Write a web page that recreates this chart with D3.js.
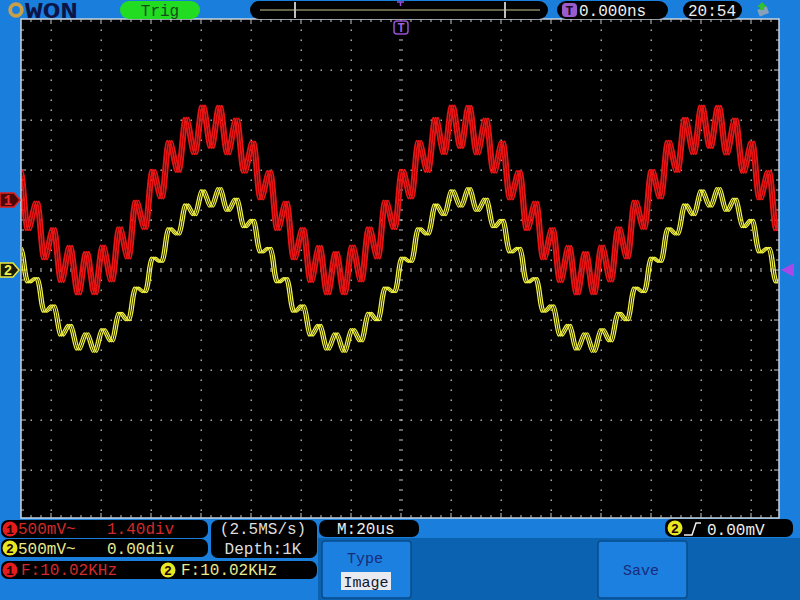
<!DOCTYPE html>
<html>
<head>
<meta charset="utf-8">
<script src="https://cdn.jsdelivr.net/npm/d3@7"></script>
<style>
  html, body { margin: 0; padding: 0; background: #1a7fdc; }
  svg { display: block; }
  text { font-family: "Liberation Mono", "DejaVu Sans Mono", monospace; }
</style>
</head>
<body>
<svg id="scope" width="800" height="600"></svg>
<script>
// turning points of the ripple (time in us from the trigger)
var timeUs = [
  -155.8,-152.4,-149.1,-145.8,-142.5,-139.1,-135.8,-132.5,-129.1,-125.8,
  -122.5,-119.2,-115.8,-112.5,-109.2,-105.9,-102.5,-99.2,-95.9,-92.6,
  -89.2,-85.9,-82.6,-79.3,-75.9,
  -72.6,-69.3,-65.9,-62.6,-59.3,-56.0,-52.6,-49.3,-46.0,-42.7,
  -39.3,-36.0,-32.7,-29.4,-26.0,-22.7,-19.4,-16.0,-12.7,-9.4,
  -6.1,-2.7,0.6,3.9,7.2,10.6,13.9,17.2,20.5,23.9,
  27.2,30.5,33.9,37.2,40.5,43.8,47.2,50.5,53.8,57.1,
  60.5,63.8,67.1,70.4,73.8,77.1,80.4,83.8,87.1,90.4,
  93.7,97.1,100.4,103.7,107.0,110.4,113.7,117.0,120.3,123.7,
  127.0,130.3,133.6,137.0,140.3,143.6,147.0,150.3,153.6
];
// CH1 (red), mV
var ch1mV = [
  4,292,-303,-14,-594,-279,-822,-458,-945,-520,
  -943,-454,-816,-271,-586,-4,-292,303,14,594,
  279,822,458,945,520,
  943,454,816,271,586,4,292,-303,-14,-594,
  -279,-822,-458,-945,-520,-943,-454,-816,-271,-586,
  -4,-292,303,14,594,279,822,458,945,520,
  943,454,816,271,586,4,292,-303,-14,-594,
  -279,-822,-458,-945,-520,-943,-454,-816,-271,-586,
  -4,-292,303,14,594,279,822,458,945,520,
  943,454,816,271,586,4,292,-303,-14
];
// CH2 (yellow), mV
var ch2mV = [
  172,225,-127,-78,-421,-350,-660,-545,-802,-628,
  -823,-586,-718,-424,-507,-172,-225,127,78,421,
  350,660,545,802,628,
  823,586,718,424,507,172,225,-127,-78,-421,
  -350,-660,-545,-802,-628,-823,-586,-718,-424,-507,
  -172,-225,127,78,421,350,660,545,802,628,
  823,586,718,424,507,172,225,-127,-78,-421,
  -350,-660,-545,-802,-628,-823,-586,-718,-424,-507,
  -172,-225,127,78,421,350,660,545,802,628,
  823,586,718,424,507,172,225,-127,-78
];

var ch1Info = ["500mV~", "1.40div", "F:10.02KHz"];
var ch2Info = ["500mV~", "0.00div", "F:10.02KHz"];
var acqInfo = ["(2.5MS/s)", "Depth:1K"];
var timebase = "M:20us";
var trigLevel = "0.00mV";
var trigDelay = "0.000ns";
var clock = "20:54";
var menuItems = ["Type", "Image", "Save"];

var ch1Offset = 700; // 1.40 div * 500 mV

var svg = d3.select("#scope");
var W = 800, H = 600;
var plot = { left: 21, top: 19, right: 779, bottom: 518 };
var cx = 401, cy = 270;

// scales: 20 us/div and 500 mV/div, 50 px per div
var x = d3.scaleLinear().domain([-160, 160]).range([cx - 400, cx + 400]);
var y2 = d3.scaleLinear().domain([-2500, 2500]).range([cy + 250, cy - 250]);
var y1 = d3.scaleLinear().domain([-2500 - ch1Offset, 2500 - ch1Offset]).range([cy + 250, cy - 250]);

// backgrounds
svg.append("rect").attr("width", W).attr("height", H).attr("fill", "#1a7fdc");
svg.append("rect").attr("x", 318).attr("y", 538).attr("width", 482).attr("height", 62).attr("fill", "#0b62b0");

// plot area
svg.append("rect")
  .attr("x", plot.left).attr("y", plot.top)
  .attr("width", plot.right - plot.left).attr("height", plot.bottom - plot.top)
  .attr("fill", "#000").attr("stroke", "#c8d4e0").attr("stroke-width", 1.5);

var grid = svg.append("g").attr("fill", "#a8a8a8");
var gx = d3.range(cx - 350, cx + 351, 50).filter(function(v) { return v !== cx; });
var gy = d3.range(cy - 200, cy + 201, 50).filter(function(v) { return v !== cy; });
gx.forEach(function(vx) {
  d3.range(30, plot.bottom, 10).forEach(function(vy) {
    grid.append("rect").attr("x", vx - 0.5).attr("y", vy - 0.5).attr("width", 1.5).attr("height", 1.5);
  });
});
gy.forEach(function(vy) {
  d3.range(31, plot.right, 10).forEach(function(vx) {
    grid.append("rect").attr("x", vx - 0.5).attr("y", vy - 0.5).attr("width", 1.5).attr("height", 1.5);
  });
});

// centre cross with small dashes
var ticks = svg.append("g").attr("stroke", "#c8c8c8").attr("stroke-width", 1);
d3.range(31, plot.right, 10).forEach(function(vx) {
  ticks.append("line").attr("x1", vx).attr("x2", vx).attr("y1", cy - 2).attr("y2", cy + 2);
  var len = (vx - cx) % 50 === 0 ? 5 : 3;
  ticks.append("line").attr("x1", vx).attr("x2", vx).attr("y1", plot.top).attr("y2", plot.top + len);
  ticks.append("line").attr("x1", vx).attr("x2", vx).attr("y1", plot.bottom).attr("y2", plot.bottom - len);
});
d3.range(30, plot.bottom, 10).forEach(function(vy) {
  ticks.append("line").attr("x1", cx - 2).attr("x2", cx + 2).attr("y1", vy).attr("y2", vy);
  var len = (vy - cy) % 50 === 0 ? 5 : 3;
  ticks.append("line").attr("x1", plot.left).attr("x2", plot.left + len).attr("y1", vy).attr("y2", vy);
  ticks.append("line").attr("x1", plot.right).attr("x2", plot.right - len).attr("y1", vy).attr("y2", vy);
});

// traces
svg.append("clipPath").attr("id", "clip").append("rect")
  .attr("x", plot.left + 1).attr("y", plot.top + 1)
  .attr("width", plot.right - plot.left - 2).attr("height", plot.bottom - plot.top - 2);

var ch1 = timeUs.map(function(t, i) { return { t: t, v: ch1mV[i] }; });
var ch2 = timeUs.map(function(t, i) { return { t: t, v: ch2mV[i] }; });

var traces = svg.append("g").attr("clip-path", "url(#clip)");
// several overlaid sweeps, slightly out of step
[-2, 0, 2].forEach(function(dx) {
  var line2 = d3.line().x(function(d) { return x(d.t) + dx; }).y(function(d) { return y2(d.v); }).curve(d3.curveCatmullRom.alpha(0.5));
  traces.append("path").datum(ch2).attr("d", line2)
    .attr("fill", "none").attr("stroke", "#f0f040").attr("stroke-width", 1.3);
});
[-2.2, 0, 2.2].forEach(function(dx) {
  var line1 = d3.line().x(function(d) { return x(d.t) + dx; }).y(function(d) { return y1(d.v); }).curve(d3.curveCatmullRom.alpha(0.5));
  traces.append("path").datum(ch1).attr("d", line1)
    .attr("fill", "none").attr("stroke", "#e81414").attr("stroke-width", 1.9);
});

// channel markers
svg.append("path").attr("d", "M0," + (y1(0) - 7) + "h14l6,7l-6,7h-14z")
  .attr("fill", "#4a0808").attr("stroke", "#e02020").attr("stroke-width", 1.5);
svg.append("text").attr("x", 8).attr("y", y1(0) + 5).attr("text-anchor", "middle")
  .attr("font-size", 14).attr("font-weight", "bold").attr("fill", "#f02828").text("1");
svg.append("path").attr("d", "M0," + (y2(0) - 7) + "h13l6,7l-6,7h-13z")
  .attr("fill", "#1a1a08").attr("stroke", "#e8e840").attr("stroke-width", 1.5);
svg.append("text").attr("x", 8).attr("y", y2(0) + 5).attr("text-anchor", "middle")
  .attr("font-size", 14).attr("font-weight", "bold").attr("fill", "#f0f050").text("2");
// trigger level arrow
svg.append("path").attr("d", "M781," + cy + "l13,-7v14z").attr("fill", "#a848e8");
// trigger position marker
svg.append("rect").attr("x", cx - 7).attr("y", 21).attr("width", 14).attr("height", 13).attr("rx", 3)
  .attr("fill", "#000").attr("stroke", "#9850d0").attr("stroke-width", 1.5);
svg.append("text").attr("x", cx).attr("y", 32).attr("text-anchor", "middle")
  .attr("font-size", 12).attr("font-weight", "bold").attr("fill", "#a060e0").text("T");

// ---- top bar ----
svg.append("circle").attr("cx", 16).attr("cy", 10).attr("r", 5.8)
  .attr("fill", "none").attr("stroke", "#c8a048").attr("stroke-width", 3.8);
svg.append("text").attr("x", 25).attr("y", 18).attr("font-family", "DejaVu Sans")
  .attr("font-size", 22).attr("font-weight", "bold").attr("fill", "#0c1448")
  .attr("textLength", 53).attr("lengthAdjust", "spacingAndGlyphs").text("WON");

svg.append("rect").attr("x", 120).attr("y", 1).attr("width", 80).attr("height", 18).attr("rx", 9).attr("fill", "#22dc22");
svg.append("text").attr("x", 160).attr("y", 16).attr("text-anchor", "middle").attr("font-size", 16)
  .attr("fill", "#1a4a1a").text("Trig");

svg.append("rect").attr("x", 250).attr("y", 1).attr("width", 298).attr("height", 18).attr("rx", 9).attr("fill", "#000");
svg.append("line").attr("x1", 260).attr("x2", 540).attr("y1", 10).attr("y2", 10).attr("stroke", "#c8c890").attr("stroke-width", 1);
[295, 505].forEach(function(v) {
  svg.append("line").attr("x1", v).attr("x2", v).attr("y1", 2).attr("y2", 18).attr("stroke", "#c0c0c0").attr("stroke-width", 2);
});
svg.append("path").attr("d", "M397,2h7M400.5,2v4").attr("stroke", "#a050e0").attr("stroke-width", 1.5);

svg.append("rect").attr("x", 557).attr("y", 1).attr("width", 111).attr("height", 18).attr("rx", 9).attr("fill", "#000");
svg.append("rect").attr("x", 562).attr("y", 3).attr("width", 15).attr("height", 14).attr("rx", 4).attr("fill", "#9a5ccc");
svg.append("text").attr("x", 569.5).attr("y", 15).attr("text-anchor", "middle").attr("font-size", 13)
  .attr("font-weight", "bold").attr("fill", "#1a0a2a").text("T");
svg.append("text").attr("x", 579).attr("y", 16).attr("font-size", 16).attr("fill", "#eeeeee").text(trigDelay);

svg.append("rect").attr("x", 683).attr("y", 1).attr("width", 59).attr("height", 18).attr("rx", 9).attr("fill", "#000");
svg.append("text").attr("x", 712).attr("y", 16).attr("text-anchor", "middle").attr("font-size", 16).attr("fill", "#eeeeee").text(clock);

// usb icon
svg.append("rect").attr("x", 758).attr("y", 8).attr("width", 10).attr("height", 7).attr("fill", "#8aa0b8").attr("transform", "rotate(-20,763,11)");
svg.append("path").attr("d", "M757,7l5,-5l5,5h-3v3h-4v-3z").attr("fill", "#30c030");

// ---- bottom info ----
function box(x0, y0, w, h) {
  svg.append("rect").attr("x", x0).attr("y", y0).attr("width", w).attr("height", h).attr("rx", 7).attr("fill", "#000");
}
function badge(x0, y0, fill, label) {
  svg.append("circle").attr("cx", x0).attr("cy", y0).attr("r", 7.5).attr("fill", fill);
  svg.append("text").attr("x", x0).attr("y", y0 + 5).attr("text-anchor", "middle")
    .attr("font-size", 13).attr("font-weight", "bold").attr("fill", "#200").text(label);
}
var red = "#d22a2a", yel = "#e8e88c", wht = "#eeeeee";

box(1, 520, 207, 18);
box(1, 539, 207, 18);
box(211, 520, 106, 38);
box(1, 561, 316, 18);
box(319, 520, 100, 17);
box(665, 519, 128, 18);

badge(10, 529, "#e41c1c", "1");
svg.append("text").attr("x", 18).attr("y", 534).attr("font-size", 16).attr("fill", red).text(ch1Info[0]);
svg.append("text").attr("x", 107).attr("y", 534).attr("font-size", 16).attr("fill", red).text(ch1Info[1]);
badge(10, 548, "#e8e820", "2");
svg.append("text").attr("x", 18).attr("y", 554).attr("font-size", 16).attr("fill", yel).text(ch2Info[0]);
svg.append("text").attr("x", 107).attr("y", 554).attr("font-size", 16).attr("fill", yel).text(ch2Info[1]);

svg.append("text").attr("x", 263).attr("y", 534).attr("text-anchor", "middle").attr("font-size", 16).attr("fill", "#dddddd").text(acqInfo[0]);
svg.append("text").attr("x", 263).attr("y", 554).attr("text-anchor", "middle").attr("font-size", 16).attr("fill", "#dddddd").text(acqInfo[1]);

badge(10, 570, "#e41c1c", "1");
svg.append("text").attr("x", 21).attr("y", 575).attr("font-size", 16).attr("fill", red).text(ch1Info[2]);
badge(168, 570, "#e8e820", "2");
svg.append("text").attr("x", 181).attr("y", 575).attr("font-size", 16).attr("fill", yel).text(ch2Info[2]);

svg.append("text").attr("x", 337).attr("y", 534).attr("font-size", 16).attr("fill", wht).text(timebase);

badge(675, 528, "#e8e820", "2");
svg.append("path").attr("d", "M684,535h8l4,-12h5").attr("fill", "none").attr("stroke", wht).attr("stroke-width", 1.5);
svg.append("text").attr("x", 707).attr("y", 535).attr("font-size", 16).attr("fill", wht).text(trigLevel);

// menu buttons
function button(x0, w) {
  svg.append("rect").attr("x", x0).attr("y", 541).attr("width", w).attr("height", 57).attr("rx", 3)
    .attr("fill", "#1b80e0").attr("stroke", "#0a4c8c").attr("stroke-width", 1.5);
}
button(322, 89);
button(598, 89);
svg.append("text").attr("x", 365).attr("y", 563).attr("text-anchor", "middle").attr("font-size", 15).attr("fill", "#1a2a78").text(menuItems[0]);
svg.append("rect").attr("x", 341).attr("y", 572).attr("width", 50).attr("height", 18).attr("fill", "#e8eaf0");
svg.append("text").attr("x", 366).attr("y", 587).attr("text-anchor", "middle").attr("font-size", 15).attr("fill", "#101830").text(menuItems[1]);
svg.append("text").attr("x", 641).attr("y", 575).attr("text-anchor", "middle").attr("font-size", 15).attr("fill", "#1a2a78").text(menuItems[2]);
</script>
</body>
</html>
